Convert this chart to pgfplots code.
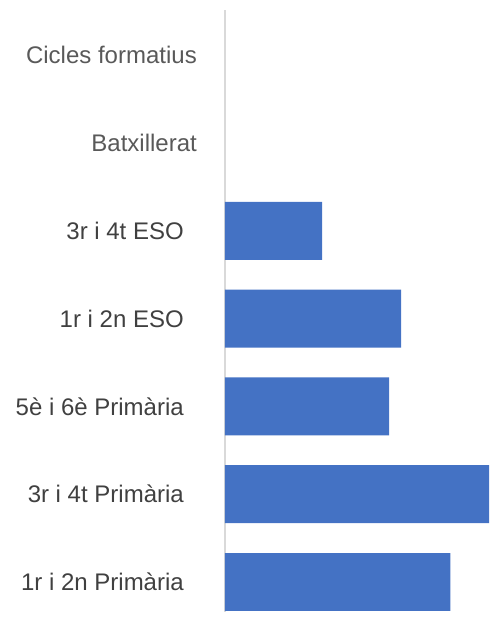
\documentclass[border=0pt]{standalone}
\usepackage{fontspec}
\setmainfont{Liberation Sans}
\usepackage{pgfplots}
\pgfplotsset{compat=1.18}
\definecolor{barblue}{HTML}{4472C4}
\definecolor{lbl}{HTML}{404040}
\definecolor{lbltwo}{HTML}{595959}
\definecolor{axl}{HTML}{D9D9D9}
\begin{document}
\begin{tikzpicture}
\useasboundingbox (-225pt,-5pt) rectangle (264pt,612pt);
\begin{axis}[
  at={(0pt,0pt)}, anchor=south west,
  scale only axis, width=264pt, height=602pt,
  xbar, bar width=0.66,
  xmin=0, xmax=264, ymin=-0.342, ymax=6.515,
  hide x axis, axis y line=left,
  axis line style={-, draw=axl, line width=1.5pt},
  ytick={0,1,2,3,4,5,6},
  yticklabels={1r i 2n Primària, 3r i 4t Primària, 5è i 6è Primària, 1r i 2n ESO, 3r i 4t ESO,
    {\textcolor{lbltwo}{Batxillerat}\hspace*{-13pt}}, {\textcolor{lbltwo}{Cicles formatius}\hspace*{-13pt}}},
  major tick length=0pt,
  yticklabel style={font=\fontsize{24}{28}\selectfont, text=lbl, anchor=east, inner sep=0pt, xshift=-41pt},
]
\addplot[fill=barblue, draw=none] coordinates {(225.3,0) (264,1) (164,2) (176,3) (97,4)};
\end{axis}
\end{tikzpicture}
\end{document}
